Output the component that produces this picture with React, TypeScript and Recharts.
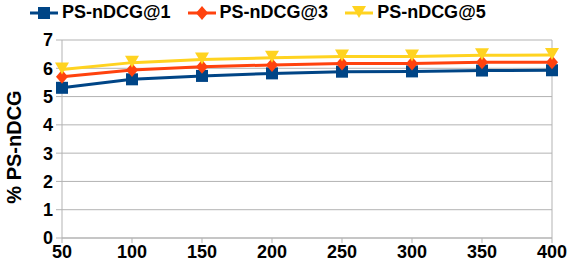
import { CartesianGrid, Line, LineChart, ReferenceLine, XAxis, YAxis } from "recharts";

const ks = [50, 100, 150, 200, 250, 300, 350, 400];
const ndcg1 = [5.31, 5.61, 5.73, 5.82, 5.88, 5.89, 5.92, 5.93];
const ndcg3 = [5.7, 5.94, 6.05, 6.12, 6.17, 6.17, 6.21, 6.21];
const ndcg5 = [5.96, 6.2, 6.31, 6.37, 6.42, 6.42, 6.46, 6.47];
const yTicks = [0, 1, 2, 3, 4, 5, 6, 7];

const series = [
  { key: "ndcg1", name: "PS-nDCG@1", color: "#004586", shape: "square" },
  { key: "ndcg3", name: "PS-nDCG@3", color: "#ff420e", shape: "diamond" },
  { key: "ndcg5", name: "PS-nDCG@5", color: "#ffd320", shape: "triangle" },
];

const data = ks.map((k, i) => ({ k, ndcg1: ndcg1[i], ndcg3: ndcg3[i], ndcg5: ndcg5[i] }));

const FONT = "'Liberation Sans', Arial, sans-serif";

const Marker = ({ cx, cy, shape, color }: any) => {
  if (cx == null || cy == null) return null;
  if (shape === "square") {
    return <rect x={cx - 6} y={cy - 6} width={12} height={12} fill={color} />;
  }
  if (shape === "diamond") {
    return <polygon points={`${cx},${cy - 7} ${cx + 6},${cy} ${cx},${cy + 7} ${cx - 6},${cy}`} fill={color} />;
  }
  return <polygon points={`${cx - 7},${cy - 7} ${cx + 7},${cy - 7} ${cx},${cy + 5}`} fill={color} />;
};

const ChartLegend = () => (
  <div
    style={{
      position: "absolute",
      top: 2,
      left: 0,
      display: "flex",
      fontFamily: FONT,
      fontWeight: "bold",
      fontSize: 18,
      color: "#000",
    }}
  >
    {series.map((s, i) => (
      <div key={s.key} style={{ display: "flex", alignItems: "center", marginLeft: i === 0 ? 30 : 17 }}>
        <svg width={28} height={16} style={{ marginRight: 4 }}>
          <line x1={0} y1={8} x2={28} y2={8} stroke={s.color} strokeWidth={3} />
          <Marker cx={14} cy={8} shape={s.shape} color={s.color} />
        </svg>
        <span>{s.name}</span>
      </div>
    ))}
  </div>
);

export default function App() {
  return (
    <div style={{ position: "absolute", left: 0, top: 0, width: 570, height: 267, background: "#fff" }}>
      <LineChart width={570} height={267} data={data} margin={{ top: 40, right: 18, left: 0, bottom: 0 }}>
        <CartesianGrid vertical={false} stroke="#b3b3b3" />
        <ReferenceLine x={400} stroke="#b3b3b3" />
        <XAxis
          dataKey="k"
          type="number"
          domain={[50, 400]}
          ticks={ks}
          height={29}
          stroke="#b3b3b3"
          tickSize={5}
          tickMargin={2}
          tick={{ fill: "#000", fontSize: 18, fontWeight: "bold", fontFamily: FONT }}
        />
        <YAxis
          domain={[0, 7]}
          ticks={yTicks}
          width={62}
          stroke="#b3b3b3"
          tickSize={6}
          tickMargin={3}
          interval={0}
          tick={{ fill: "#000", fontSize: 18, fontWeight: "bold", fontFamily: FONT }}
          label={{
            value: "% PS-nDCG",
            angle: -90,
            position: "insideLeft",
            dx: 9,
            dy: 8,
            style: { fill: "#000", fontSize: 20, fontWeight: "bold", fontFamily: FONT, textAnchor: "middle" },
          }}
        />
        {series.map((s) => (
          <Line
            key={s.key}
            dataKey={s.key}
            name={s.name}
            stroke={s.color}
            strokeWidth={3}
            isAnimationActive={false}
            dot={(p: any) => <Marker key={`${s.key}-${p.index}`} cx={p.cx} cy={p.cy} shape={s.shape} color={s.color} />}
          />
        ))}
      </LineChart>
      <ChartLegend />
    </div>
  );
}
